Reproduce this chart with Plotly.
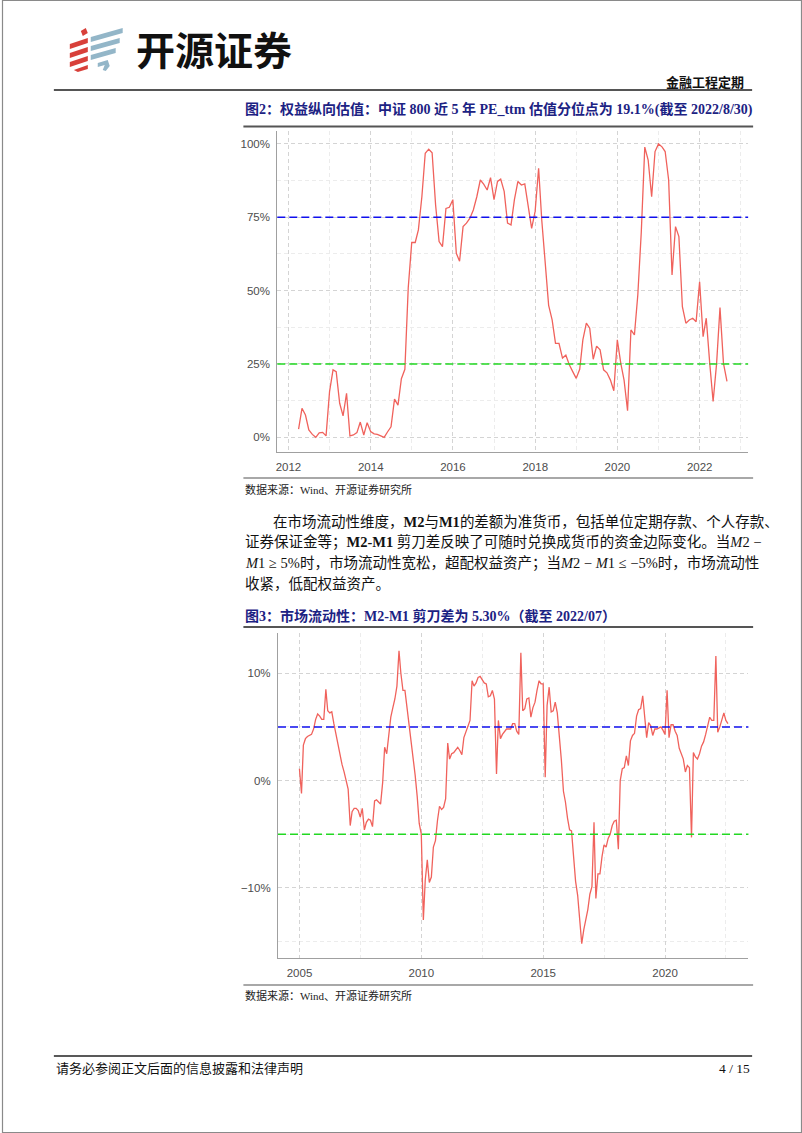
import plotly.graph_objects as go
import pandas as pd

W, H = 802, 1133

# ---------------- data ----------------
pe_start = "2012-03"
pe_values = [
    2.8, 9.9, 7.6, 2.5, 1.0, 0.0, 1.5, 1.7, 0.5, 15.6,
    23.0, 22.4, 11.6, 7.3, 15.0, 0.5, 0.8, 1.6, 5.2, 0.8, 5.0, 2.0,
    1.2, 1.0, 0.5, 0.0, 1.9, 3.6, 13.0, 11.0, 20.0, 23.2, 51.0, 66.4,
    66.4, 70.7, 82.0, 96.8, 98.2, 97.0, 79.2, 66.7, 65.0, 78.0, 78.4, 81.0,
    62.7, 60.0, 71.8, 73.0, 74.7, 77.5, 82.0, 87.7, 86.3, 84.3, 88.5, 81.0,
    87.2, 88.0, 83.8, 73.0, 72.4, 81.0, 87.2, 86.0, 86.4, 78.6, 71.2, 77.0,
    91.7, 74.0, 59.3, 45.0, 40.0, 32.0, 32.0, 27.0, 28.0, 24.7, 22.4, 20.1,
    23.2, 33.2, 38.9, 37.2, 26.6, 31.1, 29.8, 23.0, 22.0, 19.5, 15.9, 33.2,
    25.2, 19.5, 9.1, 36.6, 34.9, 48.5, 70.0, 98.9, 94.5, 82.0, 97.4, 100.0,
    99.0, 97.4, 87.7, 55.3, 71.8, 68.4, 44.5, 38.9, 40.0, 40.6, 39.4, 53.0,
    34.3, 40.6, 25.2, 12.2, 25.2, 44.2, 25.2, 19.1,
]
pe_upper = 75
pe_lower = 25
pe_yticks = [0, 25, 50, 75, 100]
pe_yticktext = ["0%", "25%", "50%", "75%", "100%"]

m2m1_start = "2004-12"
m2m1_values = [
    1.1,
    -1.2, 3.3, 3.9, 4.1, 4.2, 4.3, 4.8, 5.7, 6.2, 6.0, 5.7, 5.7,
    8.5, 6.5, 6.3, 6.4, 5.3, 4.3, 3.5, 2.5, 1.5, 0.8, 0.0, -0.8,
    -4.2, -2.9, -2.6, -2.6, -2.8, -3.4, -2.6, -4.6, -3.9, -3.6, -3.7, -4.3,
    -1.9, -1.8, -2.0, -2.2, -0.2, 3.1, 2.5, 4.4, 5.9, 6.8, 7.6, 8.8,
    12.1, 10.0, 8.4, 8.4, 6.9, 5.0, 3.6, 2.0, 0.5, -1.5, -4.0, -5.0,
    -13.0, -9.3, -7.4, -9.5, -9.0, -6.2, -5.6, -3.7, -2.4, -2.7, -2.5, -1.7,
    3.5, 2.0, 2.5, 2.6, 2.9, 3.1, 2.8, 2.4, 4.0, 4.5, 5.0, 5.6,
    9.3, 8.8, 9.1, 9.6, 9.7, 9.4, 9.1, 9.0, 7.8, 7.9, 8.4, 7.6,
    0.6, 5.6, 3.9, 4.3, 4.6, 4.8, 4.8, 4.8, 5.3, 5.3, 4.6, 4.3,
    11.9, 6.5, 6.7, 7.6, 7.7, 5.9, 6.8, 7.3, 8.4, 9.3, 9.0, 9.0,
    0.3, 7.0, 8.7, 6.4, 6.5, 7.3, 6.3, 4.3, 1.9, -1.0, -2.0, -3.5,
    -4.6, -4.7, -7.2, -9.4, -10.7, -12.6, -15.2, -13.9, -13.0, -12.0, -10.6, -9.9,
    -3.9, -11.0, -8.7, -8.7, -7.1, -6.0, -6.2, -5.4, -5.0, -4.2, -3.8, -3.7,
    -6.4, 0.0, 1.1, 1.2, 2.3, 1.4, 3.7, 4.2, 4.4, 6.0, 6.6, 6.7,
    7.9, 6.2, 4.0, 5.4, 5.1, 4.2, 4.8, 4.8, 4.9, 5.0, 4.7, 4.3,
    8.4, 4.0, 5.2, 5.2, 4.6, 4.2, 3.0, 2.5, 2.0, 0.8, 1.4, 1.2,
    -5.3, 2.6, 2.2, 2.0, 2.5, 3.2, 3.6, 4.3, 5.0, 5.9, 5.6, 5.6,
    11.6, 4.5, 5.0, 5.7, 6.3, 5.6, 5.3,
]
m_upper = 5
m_lower = -5
m_yticks = [-10, 0, 10]
m_yticktext = ["\u221210%", "0%", "10%"]


def month_ends(start, n):
    return [p.end_time.strftime("%Y-%m-%d") for p in pd.period_range(start, periods=n, freq="M")]


pe_dates = month_ends(pe_start, len(pe_values))
m_dates = month_ends(m2m1_start, len(m2m1_values))


# ---------------- helpers ----------------
def px(x):
    return x / W


def py(y):
    return 1 - y / H


LINE_RED = "#F0625C"
GRID = "#d4d4d4"
GRID_MINOR = "#ececec"
TICKFONT = dict(family="Liberation Sans, Arial, sans-serif", size=11.5, color="#4d4d4d")
SERIF = "Liberation Serif, Noto Sans CJK SC, serif"
TITLE_BLUE = "#1c2283"

fig = go.Figure()
fig.add_trace(go.Scatter(x=pe_dates, y=pe_values, mode="lines",
                         line=dict(color=LINE_RED, width=1.3), xaxis="x", yaxis="y",
                         showlegend=False, hoverinfo="skip"))
fig.add_trace(go.Scatter(x=m_dates, y=m2m1_values, mode="lines",
                         line=dict(color=LINE_RED, width=1.3), xaxis="x2", yaxis="y2",
                         showlegend=False, hoverinfo="skip"))

common_x = dict(type="date", tickformat="%Y", showgrid=True, gridcolor=GRID, griddash="4px,3px",
                gridwidth=1, showline=True, linecolor="#a0a0a0", linewidth=1.2, zeroline=False,
                ticks="", tickfont=TICKFONT, ticklabelstandoff=4, fixedrange=True)
common_y = dict(showgrid=True, gridcolor=GRID, griddash="4px,3px", gridwidth=1, showline=True,
                linecolor="#a0a0a0", linewidth=1.2, zeroline=False, ticks="", tickfont=TICKFONT,
                ticklabelstandoff=4, fixedrange=True, tickmode="array")

fig.update_layout(
    width=W, height=H, margin=dict(l=0, r=0, t=0, b=0),
    paper_bgcolor="white", plot_bgcolor="white", showlegend=False,
    xaxis=dict(common_x, domain=[px(276), px(748)], anchor="y",
               range=["2011-09-24", "2023-03-07"], tick0="2012-01-01", dtick="M24",
               minor=dict(tick0="2012-01-01", dtick="M12", showgrid=True,
                          gridcolor=GRID_MINOR, griddash="4px,3px")),
    yaxis=dict(common_y, domain=[py(452), py(131)], anchor="x", range=[-5.0, 104.4],
               tickvals=pe_yticks, ticktext=pe_yticktext,
               minor=dict(tick0=0, dtick=12.5, showgrid=True, gridcolor=GRID_MINOR,
                          griddash="4px,3px")),
    xaxis2=dict(common_x, domain=[px(276.7), px(748.3)], anchor="y2",
                range=["2004-02-14", "2023-06-03"], tick0="2005-01-01", dtick="M60",
                minor=dict(tick0="2005-01-01", dtick="M30", showgrid=True,
                           gridcolor=GRID_MINOR, griddash="4px,3px")),
    yaxis2=dict(common_y, domain=[py(958.3), py(633)], anchor="x2", range=[-16.57, 13.75],
                tickvals=m_yticks, ticktext=m_yticktext,
                minor=dict(tick0=0, dtick=5, showgrid=True, gridcolor=GRID_MINOR,
                           griddash="4px,3px")),
)

shapes = []
# reference lines
for yref, xref, val, col in [("y", "x domain", pe_upper, "#1010ee"),
                             ("y", "x domain", pe_lower, "#22d822"),
                             ("y2", "x2 domain", m_upper, "#1010ee"),
                             ("y2", "x2 domain", m_lower, "#22d822")]:
    shapes.append(dict(type="line", xref=xref, yref=yref, x0=0, x1=1, y0=val, y1=val,
                       line=dict(color=col, width=1.5, dash="8px,4px")))


def hline(x0, x1, y, color, width):
    shapes.append(dict(type="line", xref="paper", yref="paper", x0=px(x0), x1=px(x1),
                       y0=py(y), y1=py(y), line=dict(color=color, width=width)))


hline(52, 752, 90, "#555555", 2.2)      # header rule
hline(242, 753, 126.5, "#555555", 2)    # chart 1 title rule
hline(242, 753, 478, "#a8a8a8", 2)      # chart 1 bottom rule
hline(242, 753, 627, "#555555", 2)      # chart 2 title rule
hline(242, 753, 985, "#a8a8a8", 2)      # chart 2 bottom rule
hline(52, 752, 1056, "#222222", 1.5)    # footer rule

# page border
shapes.append(dict(type="rect", xref="paper", yref="paper", x0=px(0.5), x1=px(801.5),
                   y0=py(1132.5), y1=py(0.5), line=dict(color="#8a8a8a", width=1.2)))


# logo stripes
def poly(points, color):
    d = "M " + " L ".join(f"{px(x):.5f},{py(y):.5f}" for x, y in points) + " Z"
    shapes.append(dict(type="path", xref="paper", yref="paper", path=d,
                       fillcolor=color, line=dict(width=0)))


RED = "#d8403a"
BLUE = "#93b6c8"
poly([(79, 31), (84, 28), (86, 33), (81, 36)], RED)
poly([(68, 44), (86, 38), (86, 43), (68, 49)], RED)
poly([(68, 53), (86, 47), (86, 52), (68, 58)], RED)
poly([(68, 62), (86, 56), (86, 61), (68, 67)], RED)
poly([(72, 70), (86, 65), (86, 69), (76, 72)], RED)
poly([(89, 37), (121, 28), (121, 33), (89, 42)], BLUE)
poly([(89, 46), (118, 38), (118, 43), (89, 51)], BLUE)
poly([(89, 55), (114, 48), (114, 53), (89, 60)], BLUE)
poly([(96, 63), (106, 60), (108, 66), (104, 71), (101, 70), (103, 65), (96, 67)], BLUE)

fig.update_layout(shapes=shapes)

ann = []


def text(x, y, s, size, color="black", family=SERIF, anchor="left"):
    ann.append(dict(x=px(x), y=py(y), xref="paper", yref="paper", text=s, showarrow=False,
                    xanchor=anchor, yanchor="middle",
                    font=dict(size=size, color=color, family=family)))


text(132, 48, "<b>开源证券</b>", 39, "#111111", "Noto Sans CJK SC, sans-serif")
text(746, 82, "<b>金融工程定期</b>", 13, "#111111", SERIF, "right")

text(242, 110, "<b>图2：权益纵向估值：中证 800 近 5 年 PE_ttm 估值分位点为 19.1%(截至 2022/8/30)</b>",
     14, TITLE_BLUE)
text(242, 490, "数据来源：Wind、开源证券研究所", 11, "#222222")

body = [
    (270, 522, "在市场流动性维度，<b>M2</b>与<b>M1</b>的差额为准货币，包括单位定期存款、个人存款、"),
    (242, 542, "证券保证金等；<b>M2-M1</b> 剪刀差反映了可随时兑换成货币的资金边际变化。当<i>M</i>2 −"),
    (242, 563, "<i>M</i>1 ≥ 5%时，市场流动性宽松，超配权益资产；当<i>M</i>2 − <i>M</i>1 ≤ −5%时，市场流动性"),
    (242, 584, "收紧，低配权益资产。"),
]
for x, y, s in body:
    text(x, y, s, 14.5, "#111111")

text(242, 616, "<b>图3：市场流动性：M2-M1 剪刀差为 5.30%（截至 2022/07）</b>", 14, TITLE_BLUE)
text(242, 995, "数据来源：Wind、开源证券研究所", 11, "#222222")

text(52, 1068, "请务必参阅正文后面的信息披露和法律声明", 13, "#111111")
text(752, 1068, "4 / 15", 13.5, "#111111", SERIF, "right")

fig.update_layout(annotations=ann)

fig.write_html("out.html")
